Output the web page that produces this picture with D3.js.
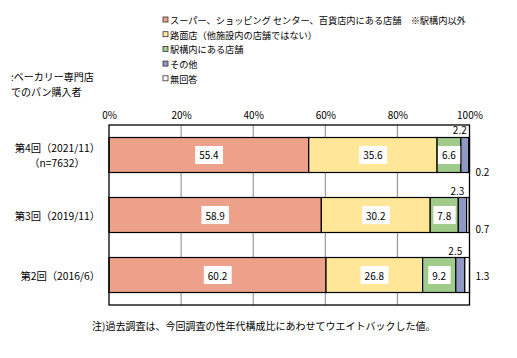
<!DOCTYPE html>
<html><head><meta charset="utf-8">
<script src="https://cdn.jsdelivr.net/npm/d3@7/dist/d3.min.js"></script>
<style>
body{margin:0;background:#fff;}
text{font-family:"Noto Sans CJK JP","Noto Sans",sans-serif;fill:#000;}
</style></head>
<body><svg id="c" width="517" height="358"></svg>
<script>
const categories = ["第4回（2021/11）", "第3回（2019/11）", "第2回（2016/6）"];
const subLabels = ["（n=7632）", "", ""];
const seriesNames = ["スーパー、ショッピング センター、百貨店内にある店舗　※駅構内以外", "路面店（他施設内の店舗ではない）", "駅構内にある店舗", "その他", "無回答"];
const superStore = [55.4, 58.9, 60.2];
const roadside = [35.6, 30.2, 26.8];
const station = [6.6, 7.8, 9.2];
const other = [2.2, 2.3, 2.5];
const noAnswer = [0.2, 0.7, 1.3];
const tickValues = [0, 20, 40, 60, 80, 100];
const colors = ["#EDA08A", "#FFE699", "#A0CB8B", "#9099C3", "#FFFFFF"];
const leftNote = [":ベーカリー専門店", "でのパン購入者"];
const footnote = "注)過去調査は、今回調査の性年代構成比にあわせてウエイトバックした値。";

const series = [superStore, roadside, station, other, noAnswer];
const rows = categories.map((c, i) => {
  const o = {cat: c};
  seriesNames.forEach((s, k) => o[s] = series[k][i]);
  return o;
});
const stacked = d3.stack().keys(seriesNames)(rows);

const svg = d3.select("#c");
const m = {l: 109, r: 469.5, t: 125, b: 305};
const x = d3.scaleLinear().domain([0, 100]).range([m.l, m.r]);
const y = d3.scaleBand().domain(categories).range([m.t, m.b]).paddingInner(0.4167).paddingOuter(0.2083);

// gridlines
svg.append("g").selectAll("line").data(tickValues.slice(1, -1)).join("line")
  .attr("x1", d => x(d)).attr("x2", d => x(d)).attr("y1", m.t).attr("y2", m.b)
  .attr("stroke", "#888").attr("stroke-width", 1);

// axis on top
const ax = svg.append("g").attr("transform", `translate(0,${m.t})`)
  .call(d3.axisTop(x).tickValues(tickValues).tickFormat(d => d + "%").tickSize(0).tickPadding(6));
ax.select(".domain").remove();
ax.selectAll("text").attr("font-size", 10).style("font-family", '"Noto Sans CJK JP"');

// bars
const g = svg.append("g");
stacked.forEach((layer, k) => {
  g.selectAll(null).data(layer).join("rect")
    .attr("x", d => x(d[0])).attr("width", d => x(d[1]) - x(d[0]))
    .attr("y", d => y(d.data.cat)).attr("height", y.bandwidth())
    .attr("fill", colors[k]).attr("stroke", "#000").attr("stroke-width", 1.2);
});

// plot border
svg.append("rect").attr("x", m.l).attr("y", m.t).attr("width", m.r - m.l).attr("height", m.b - m.t)
  .attr("fill", "none").attr("stroke", "#000").attr("stroke-width", 1.3);

// inside labels with white boxes (first three series)
[0, 1, 2].forEach(k => {
  stacked[k].forEach(d => {
    const cx = (x(d[0]) + x(d[1])) / 2;
    const cy = y(d.data.cat) + y.bandwidth() / 2;
    const t = svg.append("text").attr("x", cx).attr("y", cy).attr("text-anchor", "middle")
      .attr("dominant-baseline", "central").attr("font-size", 10).text(d3.format(".1f")(d[1] - d[0]));
    const bb = t.node().getBBox();
    svg.insert("rect", () => t.node()).attr("x", bb.x - 4).attr("y", cy - 9).attr("width", bb.width + 8).attr("height", 18).attr("fill", "#fff");
  });
});

// "other" labels above bars
stacked[3].forEach(d => {
  const cx = (x(d[0]) + x(d[1])) / 2 - 5;
  svg.append("text").attr("x", cx).attr("y", y(d.data.cat) - 3).attr("text-anchor", "middle")
    .attr("font-size", 10).text(d3.format(".1f")(d[1] - d[0]));
});
// "no answer" labels to the right
const naOffsets = [17, 13, 0];
stacked[4].forEach((d, i) => {
  svg.append("text").attr("x", m.r + 6).attr("y", y(d.data.cat) + y.bandwidth() / 2 + naOffsets[i])
    .attr("dominant-baseline", "central").attr("font-size", 10).text(d3.format(".1f")(d[1] - d[0]));
});

// category labels
categories.forEach((c, i) => {
  const cy = y(c) + y.bandwidth() / 2;
  if (subLabels[i]) {
    svg.append("text").attr("x", 100).attr("y", cy - 7.5).attr("text-anchor", "end")
      .attr("dominant-baseline", "central").attr("font-size", 10.3).text(c);
    svg.append("text").attr("x", 57).attr("y", cy + 7.5).attr("text-anchor", "middle")
      .attr("dominant-baseline", "central").attr("font-size", 10.3).text(subLabels[i]);
  } else {
    svg.append("text").attr("x", 100).attr("y", cy).attr("text-anchor", "end")
      .attr("dominant-baseline", "central").attr("font-size", 10.3).text(c);
  }
});

// legend
const lg = svg.append("g");
seriesNames.forEach((s, k) => {
  const ly = 20 + k * 14.7;
  lg.append("rect").attr("x", 163).attr("y", ly - 3).attr("width", 5).attr("height", 5)
    .attr("fill", colors[k]).attr("stroke", "#333").attr("stroke-width", 0.8);
  lg.append("text").attr("x", 170).attr("y", ly).attr("dominant-baseline", "central")
    .attr("font-size", 9.2).text(s);
});

// left note
leftNote.forEach((t, i) => {
  svg.append("text").attr("x", 11).attr("y", 76 + i * 15).attr("dominant-baseline", "central")
    .attr("font-size", 10).text(t);
});

// footnote
svg.append("text").attr("x", 92).attr("y", 325).attr("dominant-baseline", "central")
  .attr("font-size", 10).text(footnote);
</script></body></html>
